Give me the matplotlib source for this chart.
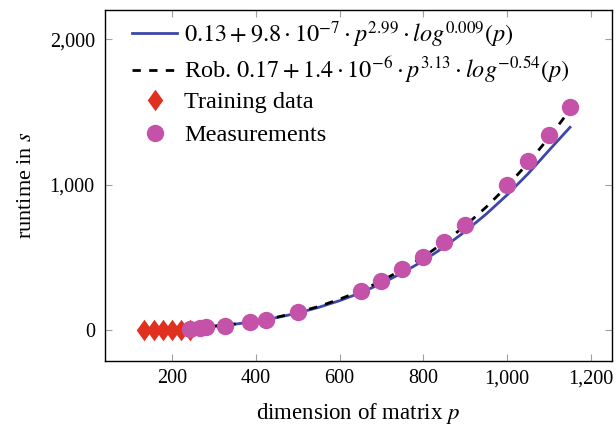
import matplotlib
matplotlib.use("Agg")
import matplotlib.pyplot as plt
from matplotlib.ticker import FuncFormatter, MultipleLocator
from matplotlib.path import Path

plt.rcParams['font.family'] = ['Liberation Serif', 'DejaVu Serif']
plt.rcParams['mathtext.fontset'] = 'stix'

# Data
train_p = [134, 156, 178, 200, 222, 244]
train_t = [0, 0, 0, 0, 0, 0]

meas_p = [242, 266, 282, 326, 386, 424, 500, 650, 700, 750, 800, 850, 900, 1000, 1050, 1100, 1150]
meas_t = [10, 14, 18, 28, 52, 70, 122, 270, 339, 418, 504, 607, 722, 996, 1164, 1340, 1532]

fit_p = [134, 200, 250, 300, 350, 400, 450, 500, 550, 600, 650, 700, 750, 800, 850, 900, 950, 1000, 1050, 1100, 1150]
fit_t = [2.4, 7.7, 14.7, 25.5, 40.2, 60, 85.4, 117, 156, 202, 256, 320, 394, 477, 572, 679, 798, 930, 1076, 1237, 1395]
rob_t = [2.5, 8, 15, 27, 42, 62, 88, 122, 162, 212, 270, 338, 416, 503, 605, 718, 846, 990, 1150, 1325, 1515]

fit_label = r'$0.13 + 9.8 \cdot 10^{-7} \cdot p^{2.99} \cdot log^{0.009}(p)$'
rob_label = r'Rob. $0.17 + 1.4 \cdot 10^{-6} \cdot p^{3.13} \cdot log^{-0.54}(p)$'

diamond = Path([(0, -1), (0.72, 0), (0, 1), (-0.72, 0), (0, -1)],
               [Path.MOVETO, Path.LINETO, Path.LINETO, Path.LINETO, Path.CLOSEPOLY])

fig = plt.figure(figsize=(6.16, 4.29), dpi=100)
ax = fig.add_axes([104.5/616, 1 - 361/429, (611.5-104.5)/616, (361-10)/429])

l1, = ax.plot(fit_p, fit_t, color='#3c47ab', lw=2.0, label=fit_label, zorder=2)
l2, = ax.plot(fit_p, rob_t, color='black', lw=2.0, ls=(0, (3, 3)), label=rob_label, zorder=3)
l3, = ax.plot(train_p, train_t, ls='none', marker=diamond, color='#e0301e', markersize=15.5,
              markeredgewidth=0, label='Training data', zorder=4)
l4, = ax.plot(meas_p, meas_t, ls='none', marker='o', color='#c452a8', markersize=12.5,
              markeredgewidth=0, label='Measurements', zorder=5)

ax.set_xlim(39, 1249)
ax.set_ylim(-213, 2202)
ax.xaxis.set_major_locator(MultipleLocator(200))
ax.yaxis.set_major_locator(MultipleLocator(1000))
fmt = FuncFormatter(lambda v, pos: f'{int(round(v)):,}')
ax.xaxis.set_major_formatter(fmt)
ax.yaxis.set_major_formatter(fmt)
ax.tick_params(direction='in', length=5, width=0.8, color='#a0a0a0',
               top=True, right=True, labelsize=14.5)
ax.tick_params(axis='x', pad=6)
ax.tick_params(axis='y', pad=7)
for s in ax.spines.values():
    s.set_linewidth(1.0)

ax.set_xlabel(r'dimension of matrix $p$', fontsize=16.5, labelpad=9)
ax.set_ylabel(r'runtime in $s$', fontsize=16, labelpad=10)

common = dict(loc='upper left', frameon=False, fontsize=17.5, handlelength=1.88,
              handletextpad=0.29, borderaxespad=0.0, borderpad=0.0)
leg1 = ax.legend(handles=[l1, l2], bbox_to_anchor=(0.0536, 0.9746),
                 labelspacing=0.22, **common)
ax.add_artist(leg1)
leg2 = ax.legend(handles=[l3, l4], bbox_to_anchor=(0.0536, 0.768),
                 labelspacing=0.45, **common)

fig.savefig('out.png', dpi=100)
